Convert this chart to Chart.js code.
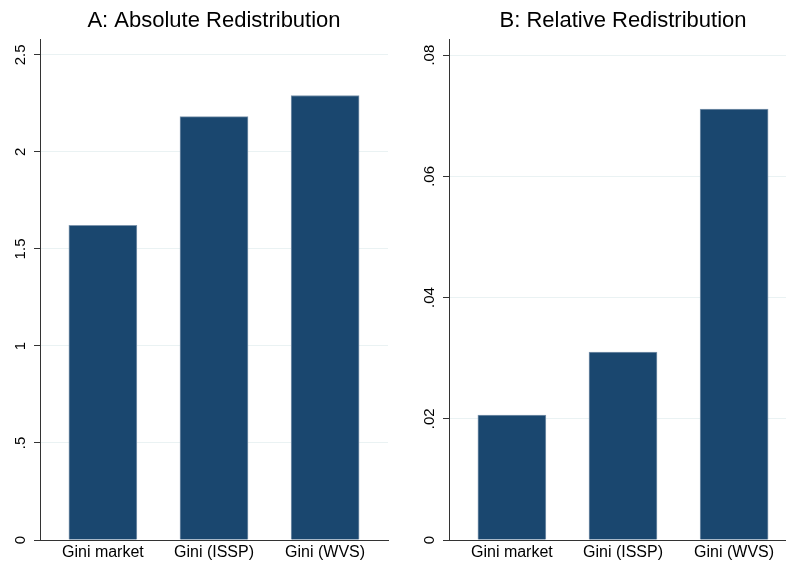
<!DOCTYPE html>
<html><head><meta charset="utf-8">
<script src="https://cdn.jsdelivr.net/npm/chart.js@4"></script>
<style>
html,body{margin:0;padding:0;overflow:hidden;background:#fff;width:786px;height:561px;position:relative;}
#a{position:absolute;left:0;top:0;}
#b{position:absolute;left:409px;top:0;}
</style></head><body>
<canvas id="a" width="393" height="561"></canvas>
<canvas id="b" width="393" height="561"></canvas>
<script>
const categories = ["Gini market", "Gini (ISSP)", "Gini (WVS)"];
const absoluteValues = [1.622, 2.182, 2.291];
const relativeValues = [0.0206, 0.0310, 0.0711];
const absoluteTicks = [0, 0.5, 1, 1.5, 2, 2.5];
const absoluteTickLabels = ["0", ".5", "1", "1.5", "2", "2.5"];
const relativeTicks = [0, 0.02, 0.04, 0.06, 0.08];
const relativeTickLabels = ["0", ".02", ".04", ".06", ".08"];
const panelTitles = ["A: Absolute Redistribution", "B: Relative Redistribution"];

const FONT = "'Liberation Sans', Arial, Helvetica, sans-serif";

function makeChart(id, title, values, ticks, tickLabels, ymax) {
  return new Chart(document.getElementById(id), {
    type: 'bar',
    data: {
      datasets: [{
        data: values.map((v, i) => ({ x: i, y: v })),
        backgroundColor: '#1a476f',
        borderColor: '#7d95ad',
        borderWidth: 1,
        barThickness: 68
      }]
    },
    options: {
      responsive: false,
      animation: false,
      devicePixelRatio: 1,
      layout: { padding: { left: 0, right: 5, top: 0, bottom: 0 } },
      plugins: {
        legend: { display: false },
        tooltip: { enabled: false },
        title: {
          display: true, text: title, color: '#000', fullSize: false,
          font: { family: FONT, size: 22, weight: 'normal' },
          padding: { top: 8, bottom: 5 }
        }
      },
      scales: {
        x: {
          type: 'linear', min: -0.566, max: 2.566, offset: false,
          grid: { display: false, offset: false, drawTicks: false, tickLength: 0 },
          border: { display: true, color: '#333', width: 1 },
          afterBuildTicks: s => { s.ticks = categories.map((c, i) => ({ value: i })); },
          ticks: {
            callback: v => categories[v],
            font: { family: FONT, size: 16 }, color: '#000',
            padding: 3, autoSkip: false, maxRotation: 0, minRotation: 0
          },
          afterFit: s => { s.height = 21; }
        },
        y: {
          min: 0, max: ymax,
          afterBuildTicks: s => { s.ticks = ticks.map(v => ({ value: v })); },
          ticks: {
            callback: (v, i) => tickLabels[i],
            minRotation: 90, maxRotation: 90, crossAlign: 'center',
            font: { family: FONT, size: 15 }, color: '#000', padding: 3
          },
          grid: { color: '#eaf2f3', lineWidth: 1, tickLength: 6, tickColor: '#333', drawTicks: true },
          border: { display: true, color: '#333', width: 1 },
          afterFit: s => { s.width = 40; }
        }
      }
    }
  });
}

makeChart('a', panelTitles[0], absoluteValues, absoluteTicks, absoluteTickLabels, 2.58);
makeChart('b', panelTitles[1], relativeValues, relativeTicks, relativeTickLabels, 0.0826);
</script>
</body></html>
